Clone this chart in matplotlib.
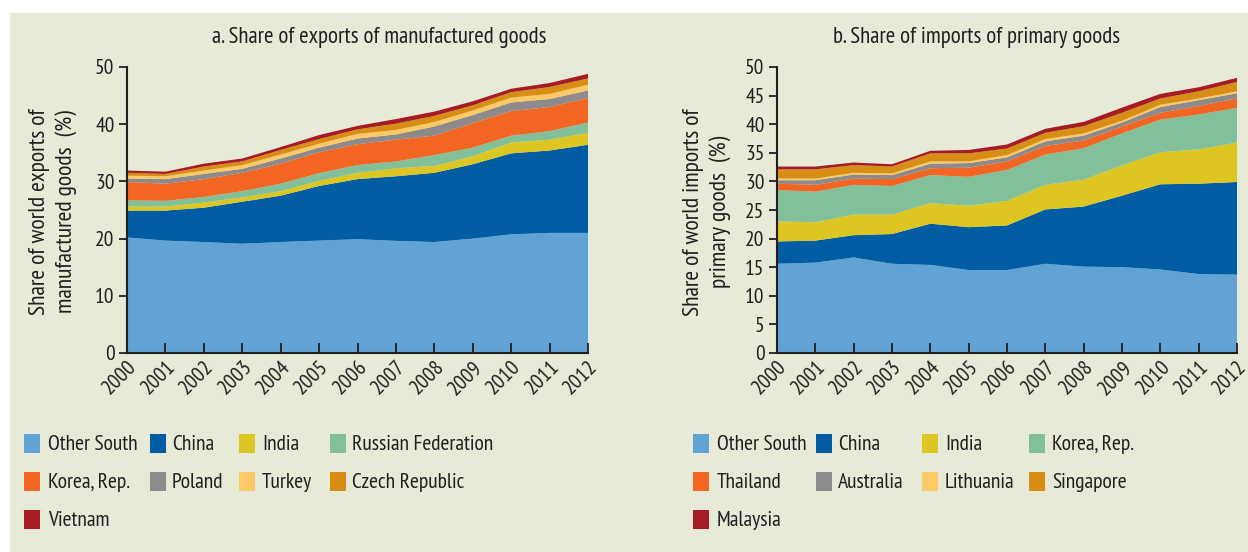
import matplotlib
matplotlib.use("Agg")
import matplotlib.pyplot as plt
from matplotlib.patches import Rectangle

years = [2000, 2001, 2002, 2003, 2004, 2005, 2006, 2007, 2008, 2009, 2010, 2011, 2012]

# Panel a: share of world exports of manufactured goods (%)
exp_labels = ["Other South", "China", "India", "Russian Federation", "Korea, Rep.",
              "Poland", "Turkey", "Czech Republic", "Vietnam"]
exp_other = [20.2, 19.65, 19.4, 19.1, 19.4, 19.65, 19.9, 19.6, 19.4, 20.0, 20.75, 21.0, 21.0]
exp_china = [4.7, 5.25, 6.0, 7.35, 8.1, 9.55, 10.5, 11.3, 12.1, 13.0, 14.15, 14.4, 15.4]
exp_india = [0.7, 0.7, 0.9, 0.75, 0.8, 0.9, 1.1, 1.4, 1.2, 1.4, 1.9, 1.9, 2.1]
exp_russia = [1.1, 1.0, 1.0, 1.1, 1.3, 1.35, 1.35, 1.2, 1.9, 1.5, 1.2, 1.5, 1.8]
exp_korea = [3.2, 3.0, 3.1, 3.2, 3.5, 3.65, 3.65, 3.8, 3.4, 4.3, 4.3, 4.2, 4.3]
exp_poland = [0.6, 0.8, 0.9, 0.7, 0.9, 0.8, 1.0, 0.9, 1.6, 1.4, 1.5, 1.4, 1.3]
exp_turkey = [0.5, 0.5, 0.6, 0.65, 0.7, 0.7, 0.8, 0.8, 0.8, 0.8, 0.85, 0.9, 1.0]
exp_czech = [0.5, 0.4, 0.7, 0.65, 0.8, 0.8, 0.8, 1.1, 1.05, 0.9, 0.95, 1.2, 1.1]
exp_vietnam = [0.4, 0.4, 0.5, 0.5, 0.5, 0.7, 0.6, 0.8, 0.75, 0.7, 0.6, 0.7, 0.8]

# Panel b: share of world imports of primary goods (%)
imp_labels = ["Other South", "China", "India", "Korea, Rep.", "Thailand",
              "Australia", "Lithuania", "Singapore", "Malaysia"]
imp_other = [15.6, 15.8, 16.7, 15.6, 15.4, 14.5, 14.5, 15.6, 15.1, 15.0, 14.6, 13.8, 13.7]
imp_china = [3.9, 3.85, 3.9, 5.2, 7.2, 7.5, 7.8, 9.5, 10.5, 12.5, 14.9, 15.8, 16.2]
imp_india = [3.5, 3.2, 3.6, 3.4, 3.6, 3.75, 4.3, 4.3, 4.7, 5.3, 5.6, 6.0, 6.9]
imp_korea = [5.5, 5.35, 5.2, 5.0, 4.9, 5.05, 5.4, 5.3, 5.5, 5.6, 5.7, 6.1, 6.05]
imp_thailand = [1.1, 1.2, 1.1, 1.2, 1.2, 1.6, 1.5, 1.5, 1.35, 1.2, 1.2, 1.5, 1.65]
imp_australia = [0.6, 0.8, 0.7, 0.7, 0.8, 0.8, 0.7, 0.8, 0.85, 0.7, 1.0, 1.0, 0.9]
imp_lithuania = [0.3, 0.3, 0.3, 0.3, 0.4, 0.3, 0.4, 0.4, 0.4, 0.3, 0.4, 0.3, 0.35]
imp_singapore = [1.6, 1.6, 1.35, 1.2, 1.4, 1.4, 1.15, 1.1, 1.25, 1.4, 1.1, 1.25, 1.65]
imp_malaysia = [0.5, 0.5, 0.45, 0.4, 0.45, 0.6, 0.7, 0.7, 0.75, 0.9, 0.8, 0.7, 0.7]

colors = ["#62a3d6", "#005da4", "#dec622", "#82c09a", "#f26522",
          "#8c8a8b", "#fdc966", "#d88e15", "#a51c24"]
BG = "#e7ead6"
TXT = "#231f20"

plt.rcParams["font.family"] = ["PT Sans Narrow", "Roboto Condensed", "Lato", "DejaVu Sans"]
plt.rcParams["text.color"] = TXT

W, H = 1248, 552
fig = plt.figure(figsize=(W / 100, H / 100), dpi=100, facecolor="white")
fig.patches.append(Rectangle((10 / W, 0), 1, 1 - 13 / H, transform=fig.transFigure,
                             facecolor=BG, edgecolor="none", zorder=-10))


def px(x0, y0, x1, y1):
    return [x0 / W, 1 - y1 / H, (x1 - x0) / W, (y1 - y0) / H]


def panel(rect, series, yticks, title, title_x, ylabel, ylabel_x):
    ax = fig.add_axes(rect)
    ax.set_facecolor("none")
    polys = ax.stackplot(years, *series, colors=colors, linewidth=0)
    ax.set_xlim(2000, 2012)
    ax.set_ylim(0, 50)
    ax.set_yticks(yticks)
    ax.set_xticks(years)
    ax.set_xticklabels([str(y) for y in years], rotation=45, ha="right",
                       va="top", rotation_mode="anchor", fontsize=15.5, color=TXT)
    ax.tick_params(axis="y", direction="out", length=6, width=1.3, labelsize=15.5,
                   labelcolor=TXT, color=TXT, pad=3)
    ax.tick_params(axis="x", direction="in", length=7, width=1.3, color=TXT, pad=3)
    for s in ["top", "right"]:
        ax.spines[s].set_visible(False)
    for s in ["left", "bottom"]:
        ax.spines[s].set_linewidth(1.5)
        ax.spines[s].set_color(TXT)
    fig.text(title_x / W, 1 - 38 / H, title, ha="center", va="center", fontsize=16.5)
    fig.text(ylabel_x / W, 1 - 212 / H, ylabel, ha="center", va="center",
             rotation=90, fontsize=17, linespacing=1.3)
    return polys


polys_a = panel(px(127, 67, 588, 353),
                [exp_other, exp_china, exp_india, exp_russia, exp_korea,
                 exp_poland, exp_turkey, exp_czech, exp_vietnam],
                range(0, 51, 10), "a. Share of exports of manufactured goods", 379,
                "Share of world exports of\nmanufactured goods  (%)", 53)
polys_b = panel(px(777, 67, 1237, 353),
                [imp_other, imp_china, imp_india, imp_korea, imp_thailand,
                 imp_australia, imp_lithuania, imp_singapore, imp_malaysia],
                range(0, 51, 5), "b. Share of imports of primary goods", 977,
                "Share of world imports of\nprimary goods  (%)", 707)


def legend(labels, polys, sq_x, txt_x):
    rows_y = [444, 482, 520]
    for i, (lab, p) in enumerate(zip(labels, polys)):
        r, c = divmod(i, 4)
        y = rows_y[r]
        fig.patches.append(Rectangle((sq_x[c] / W, 1 - (y + 9) / H), 16 / W, 19 / H,
                                     transform=fig.transFigure,
                                     facecolor=p.get_facecolor()[0], edgecolor="none"))
        fig.text(txt_x[c] / W, 1 - y / H, lab, ha="left", va="center", fontsize=15.5)


legend(exp_labels, polys_a, [24, 150, 239, 330], [48, 172, 262, 352])
legend(imp_labels, polys_b, [693, 816, 922, 1029], [717, 838, 945, 1052])

fig.savefig("out.png", dpi=100, facecolor="white")
